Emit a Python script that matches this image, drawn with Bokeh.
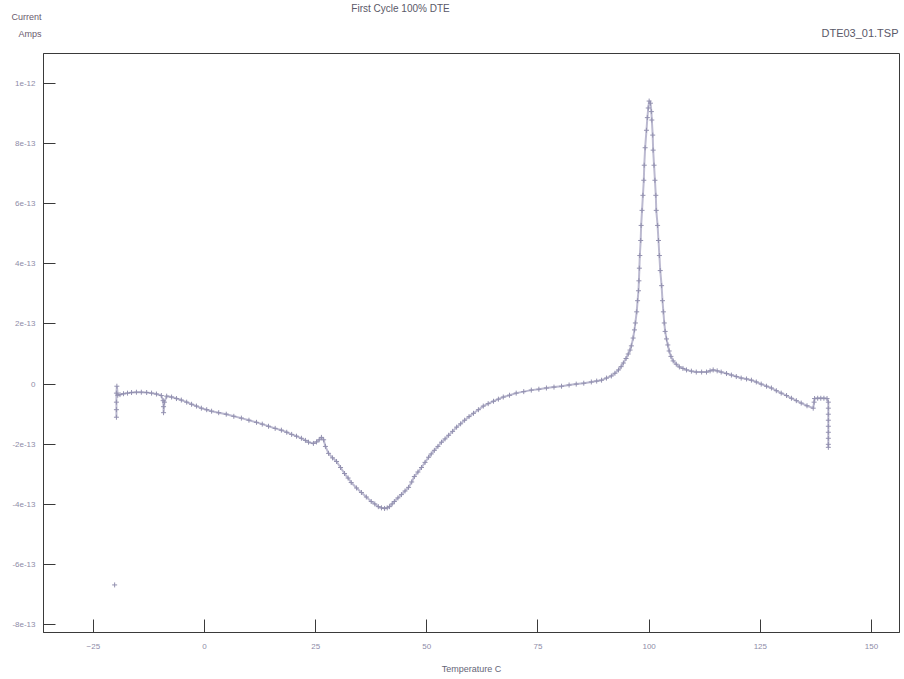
from bokeh.plotting import figure
from bokeh.layouts import column
from bokeh.models import ColumnDataSource, FixedTicker, Range1d, LinearAxis
from bokeh.core.properties import value
from bokeh.embed import file_html
from bokeh.resources import INLINE

# Temperature (C) and current (in units of 1e-13 A)
temperature = [
    -19.8, -19.8, -19.8, -19.8, -19.7, -19.5,
    -19.0, -18.2, -17.3, -16.4, -15.3, -14.2, -13.0, -11.9, -10.8, -9.7,
    -9.3, -9.2, -9.2, -9.0,
    -8.5, -7.4, -6.3, -5.2, -4.0, -2.9, -1.8, -0.7, 0.5, 1.6, 3.2, 4.9, 6.6, 8.3,
    10.0, 11.7, 13.0, 14.4, 15.9, 17.3, 18.5, 19.6, 20.7, 21.8, 22.7, 23.4, 24.5,
    25.2, 25.8, 26.3, 26.8, 27.2, 27.9, 28.8, 29.7, 30.6, 31.5, 32.3, 33.0, 34.2,
    35.3, 36.4, 37.5, 38.3, 39.1, 39.8, 40.5, 41.1, 41.6, 42.2, 42.7, 43.5, 44.3,
    45.1, 45.9, 46.6, 47.2, 48.0, 48.8, 49.6, 50.4, 51.0, 51.7, 52.5, 53.3, 54.1,
    54.9, 55.8, 56.7, 57.6, 58.5, 59.5, 60.5, 61.6, 62.7, 63.8, 65.0, 66.1, 67.2,
    68.6, 70.1, 71.8, 73.5, 75.2, 76.9, 78.6, 80.3, 82.0, 83.6, 85.3, 87.0, 88.2,
    89.3, 90.4, 91.5, 92.3, 93.1, 93.7, 94.2, 94.8, 95.3, 95.7, 96.0, 96.4, 96.7,
    96.9, 97.2, 97.4, 97.6, 97.7, 97.8, 97.9, 98.1, 98.2, 98.4, 98.6, 98.8, 98.9,
    99.1, 99.4, 99.6, 99.8, 100.0, 100.3, 100.5, 100.6, 100.8, 100.9, 101.1, 101.3,
    101.5, 101.6, 101.9, 102.1, 102.3, 102.5, 102.8, 103.0, 103.2, 103.4, 103.6,
    103.9, 104.2, 104.5, 104.9, 105.4, 106.1, 106.8, 107.6, 108.4, 109.5, 110.6,
    111.8, 112.9, 113.7, 114.4, 115.3, 116.2, 117.4, 118.5, 119.6, 120.7, 121.9,
    123.0, 124.1, 125.2, 126.4, 127.5, 128.6, 129.7, 130.9, 132.0, 133.1, 134.2,
    135.5, 136.9,
    137.1, 137.2, 137.9, 138.6, 139.3, 140.0, 140.3, 140.3, 140.3, 140.3, 140.3,
    140.3, 140.3, 140.3, 140.3,
]
current_1e13 = [
    -1.1, -0.85, -0.6, -0.3, -0.07, -0.37,
    -0.35, -0.32, -0.3, -0.28, -0.27, -0.27, -0.28, -0.3, -0.33, -0.38,
    -0.55, -0.75, -0.95, -0.6,
    -0.4, -0.43, -0.48, -0.53, -0.6, -0.67, -0.73, -0.8, -0.85, -0.9, -0.95, -1.0, -1.07, -1.13,
    -1.2, -1.27, -1.33, -1.4, -1.47, -1.53, -1.6, -1.67, -1.73, -1.8, -1.87, -1.93, -1.97,
    -1.92, -1.85, -1.77, -1.85, -2.07, -2.3, -2.45, -2.57, -2.77, -2.97, -3.12, -3.27, -3.45,
    -3.6, -3.75, -3.9, -3.98, -4.07, -4.11, -4.13, -4.11, -4.07, -3.98, -3.9, -3.78, -3.67,
    -3.55, -3.43, -3.25, -3.07, -2.92, -2.77, -2.6, -2.43, -2.32, -2.2, -2.07, -1.93, -1.82,
    -1.7, -1.57, -1.43, -1.32, -1.2, -1.08, -0.97, -0.85, -0.73, -0.65, -0.57, -0.5, -0.43,
    -0.37, -0.3, -0.25, -0.2, -0.17, -0.13, -0.1, -0.07, -0.03, 0.0, 0.03, 0.07, 0.1,
    0.13, 0.2, 0.27, 0.36, 0.47, 0.58, 0.7, 0.85, 1.0, 1.13, 1.27, 1.53, 1.8,
    2.03, 2.4, 2.77, 3.1, 3.43, 3.85, 4.27, 4.77, 5.27, 5.77, 6.27, 6.77, 7.27,
    7.85, 8.43, 8.85, 9.17, 9.4, 9.33, 9.05, 8.77, 8.27, 7.77, 7.27, 6.77,
    6.27, 5.77, 5.27, 4.77, 4.27, 3.77, 3.27, 2.77, 2.4, 2.03, 1.75,
    1.5, 1.3, 1.1, 0.92, 0.77, 0.66, 0.57, 0.52, 0.47, 0.43, 0.4,
    0.4, 0.4, 0.44, 0.47, 0.44, 0.4, 0.35, 0.3, 0.25, 0.2, 0.17,
    0.13, 0.07, 0.0, -0.07, -0.13, -0.22, -0.3, -0.38, -0.47, -0.55, -0.63,
    -0.72, -0.8,
    -0.6, -0.48, -0.47, -0.47, -0.47, -0.48, -0.6, -0.8, -1.0, -1.2, -1.4,
    -1.6, -1.8, -2.0, -2.1,
]
outlier_temperature = [-20.2]
outlier_current_1e13 = [-6.67]

x_ticks = [-25, 0, 25, 50, 75, 100, 125, 150]
y_ticks = [-8, -6, -4, -2, 0, 2, 4, 6, 8, 10]
y_tick_labels = ["-8e-13", "-6e-13", "-4e-13", "-2e-13", "0",
                 "2e-13", "4e-13", "6e-13", "8e-13", "1e-12"]

title_text = "First Cycle 100% DTE"
file_text = "DTE03_01.TSP"
y_label_lines = ["Current", "Amps"]
x_label = "Temperature C"

FONT = "Liberation Sans"
MARK = "#9391b0"
TEXT = "#5a5868"

# ---- header strip (title texts); its frame spans canvas px 43..899 ----
head = figure(width=904, height=53, output_backend="svg", toolbar_location=None,
              x_range=Range1d(43, 899), y_range=Range1d(53, 0),
              x_axis_type=None, y_axis_type=None,
              min_border_left=43, min_border_right=5, min_border_top=0,
              min_border_bottom=0, border_fill_color="white",
              background_fill_color="white")
head.outline_line_color = None
head.grid.visible = False

def put(fig, x, y, txt, align, size, color=TEXT):
    fig.text(x=[x], y=[y], text=[txt], text_align=align, text_baseline="middle",
             text_font=value(FONT), text_font_size=size, text_color=color)

put(head, 400, 8, title_text, "center", "10px")
put(head, 898, 32, file_text, "right", "11px")

# y-axis label ("Current" / "Amps") sits in the left margin of the header
lab_axis = LinearAxis(ticker=FixedTicker(ticks=[16, 33]),
                      major_label_overrides={16: y_label_lines[0], 33: y_label_lines[1]},
                      axis_line_color=None, major_tick_line_color=None,
                      minor_tick_line_color=None, major_label_standoff=-4,
                      major_label_text_font=FONT, major_label_text_font_size="9px",
                      major_label_text_color="#6a5a6e")
head.add_layout(lab_axis, "left")

# ---- main chart ----
p = figure(width=904, height=626, output_backend="svg", toolbar_location=None,
           x_range=(-36.2, 156.3), y_range=(-8.25, 10.98),
           min_border_left=43, min_border_right=5, min_border_top=0,
           min_border_bottom=47, background_fill_color="white",
           border_fill_color="white")

p.grid.visible = False
p.outline_line_color = "#3a3a3a"
p.outline_line_width = 1

src = ColumnDataSource(dict(t=temperature, c=current_1e13))
p.line("t", "c", source=src, line_color="#aaa8c4", line_width=2.0, line_alpha=0.8)
p.scatter("t", "c", source=src, marker="cross", size=5, line_color=MARK, line_width=1)
p.scatter(outlier_temperature, outlier_current_1e13, marker="cross", size=5,
          line_color=MARK, line_width=1)

for ax in (p.xaxis[0], p.yaxis[0]):
    ax.axis_line_color = "#3a3a3a"
    ax.major_tick_line_color = "#3a3a3a"
    ax.major_tick_out = 0
    ax.minor_tick_line_color = None
    ax.major_label_text_font = FONT
    ax.major_label_text_font_size = "8px"
    ax.major_label_text_color = "#8e8ca8"

p.xaxis.ticker = FixedTicker(ticks=x_ticks)
p.xaxis.major_tick_in = 13
p.xaxis.major_label_standoff = 11
p.xaxis.axis_label = x_label
p.xaxis.axis_label_text_font = FONT
p.xaxis.axis_label_text_font_size = "9px"
p.xaxis.axis_label_text_font_style = "normal"
p.xaxis.axis_label_text_color = "#666677"
p.xaxis.axis_label_standoff = 12

p.yaxis.ticker = FixedTicker(ticks=y_ticks)
p.yaxis.major_label_overrides = {t: s for t, s in zip(y_ticks, y_tick_labels)}
p.yaxis.major_tick_in = 12
p.yaxis.major_label_standoff = 8
p.yaxis.major_label_orientation = "horizontal"

layout = column(head, p, spacing=0)
open("out.html", "w").write(file_html(layout, INLINE))
